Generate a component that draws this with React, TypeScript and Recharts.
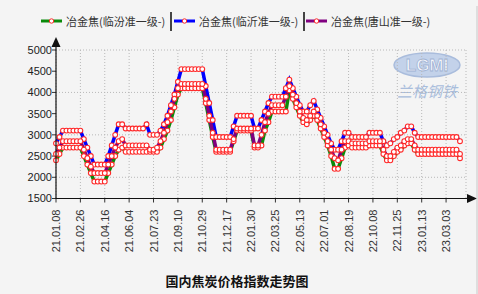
import { LineChart, Line, XAxis, YAxis, CartesianGrid } from 'recharts';

// weekly sampling dates (yy.mm.dd)
const dates = [
  '21.01.08', '21.01.15', '21.01.22', '21.01.29', '21.02.05', '21.02.10', '21.02.19', '21.02.26',
  '21.03.05', '21.03.12', '21.03.19', '21.03.26', '21.04.02', '21.04.09', '21.04.16', '21.04.23',
  '21.04.30', '21.05.07', '21.05.14', '21.05.21', '21.05.28', '21.06.04', '21.06.11', '21.06.18',
  '21.06.25', '21.07.02', '21.07.09', '21.07.16', '21.07.23', '21.07.30', '21.08.06', '21.08.13',
  '21.08.20', '21.08.27', '21.09.03', '21.09.10', '21.09.17', '21.09.24', '21.09.30', '21.10.08',
  '21.10.15', '21.10.22', '21.10.29', '21.11.05', '21.11.12', '21.11.19', '21.11.26', '21.12.03',
  '21.12.10', '21.12.17', '21.12.24', '21.12.31', '22.01.07', '22.01.14', '22.01.21', '22.01.28',
  '22.01.30', '22.02.11', '22.02.18', '22.02.25', '22.03.04', '22.03.11', '22.03.18', '22.03.25',
  '22.04.01', '22.04.08', '22.04.15', '22.04.22', '22.04.29', '22.05.06', '22.05.13', '22.05.20',
  '22.05.27', '22.06.03', '22.06.10', '22.06.17', '22.06.24', '22.07.01', '22.07.08', '22.07.15',
  '22.07.22', '22.07.29', '22.08.05', '22.08.12', '22.08.19', '22.08.26', '22.09.02', '22.09.09',
  '22.09.16', '22.09.23', '22.09.30', '22.10.08', '22.10.14', '22.10.21', '22.10.28', '22.11.04',
  '22.11.11', '22.11.18', '22.11.25', '22.12.02', '22.12.09', '22.12.16', '22.12.23', '22.12.30',
  '23.01.06', '23.01.13', '23.01.20', '23.01.28', '23.02.03', '23.02.10', '23.02.17', '23.02.24',
  '23.03.03', '23.03.10', '23.03.17', '23.03.24', '23.03.31',
];

const tickLabels = [
  '21.01.08', '21.02.26', '21.04.16', '21.06.04', '21.07.23', '21.09.10', '21.10.29', '21.12.17',
  '22.01.30', '22.03.25', '22.05.13', '22.07.01', '22.08.19', '22.10.08', '22.11.25', '23.01.13',
  '23.03.03',
];

const yTicks = [1500, 2000, 2500, 3000, 3500, 4000, 4500, 5000];

// 冶金焦(临汾准一级-)
const linfen = [
  2400, 2550, 2700, 2700, 2700, 2700, 2700, 2700, 2500, 2300, 2100, 1900, 1900, 1900, 1900, 2100,
  2300, 2500, 2650, 2700, 2600, 2600, 2600, 2600, 2600, 2600, 2600, 2600, 2600, 2600, 2700, 2900,
  3100, 3350, 3650, 3950, 4100, 4100, 4100, 4100, 4100, 4100, 4100, 3750, 3350, 2950, 2600, 2600,
  2600, 2600, 2600, 2850, 3100, 3100, 3100, 3100, 3100, 2700, 2700, 2750, 3100, 3300, 3550, 3550,
  3550, 3550, 3550, 4050, 3850, 3650, 3450, 3300, 3250, 3350, 3450, 3350, 3150, 2950, 2750, 2500,
  2200, 2200, 2450, 2700, 2750, 2700, 2700, 2700, 2700, 2700, 2750, 2750, 2750, 2750, 2550, 2400,
  2400, 2500, 2600, 2650, 2750, 2800, 2800, 2650, 2550, 2550, 2550, 2550, 2550, 2550, 2550, 2550,
  2550, 2550, 2550, 2550, 2450,
];

// 冶金焦(临沂准一级-)
const linyi = [
  2800, 2950, 3100, 3100, 3100, 3100, 3100, 3100, 2900, 2700, 2500, 2300, 2300, 2300, 2300, 2500,
  2750, 3000, 3250, 3250, 3150, 3150, 3150, 3150, 3150, 3150, 3250, 3000, 3000, 3000, 3100, 3250,
  3450, 3700, 3950, 4250, 4550, 4550, 4550, 4550, 4550, 4550, 4550, 4150, 3750, 3350, 2950, 2950,
  2950, 2950, 2950, 3200, 3450, 3450, 3450, 3450, 3450, 3150, 3150, 3350, 3550, 3750, 3900, 3900,
  3900, 3900, 4100, 4300, 4100, 3900, 3700, 3550, 3550, 3700, 3800, 3600, 3400, 3200, 3000, 2800,
  2650, 2650, 2850, 3050, 3050, 2950, 2950, 2950, 2950, 2950, 3050, 3050, 3050, 3050, 2850, 2750,
  2800, 2900, 2950, 3050, 3100, 3200, 3200, 3050, 2950, 2950, 2950, 2950, 2950, 2950, 2950, 2950,
  2950, 2950, 2950, 2950, 2850,
];

// 冶金焦(唐山准一级-)
const tangshan = [
  2550, 2700, 2850, 2850, 2850, 2850, 2850, 2850, 2650, 2450, 2250, 2100, 2100, 2100, 2100, 2300,
  2500, 2700, 2850, 2900, 2750, 2750, 2750, 2750, 2750, 2750, 2750, 2650, 2650, 2700, 2850, 3050,
  3300, 3550, 3850, 4100, 4200, 4200, 4200, 4200, 4200, 4200, 4200, 3850, 3450, 3050, 2650, 2650,
  2650, 2650, 2650, 2900, 3150, 3150, 3150, 3150, 3150, 2750, 2750, 3000, 3300, 3500, 3700, 3700,
  3700, 3700, 3900, 4150, 3950, 3750, 3550, 3400, 3350, 3450, 3550, 3450, 3250, 3050, 2850, 2650,
  2450, 2400, 2650, 2850, 2850, 2800, 2800, 2800, 2800, 2800, 2850, 2850, 2850, 2850, 2650, 2500,
  2500, 2600, 2700, 2750, 2850, 2900, 2900, 2750, 2650, 2650, 2650, 2650, 2650, 2650, 2650, 2650,
  2650, 2650, 2650, 2650, 2550,
];

const seriesList = [
  { key: 'linfen', name: '冶金焦(临汾准一级-)', color: '#0a8a0a' },
  { key: 'linyi', name: '冶金焦(临沂准一级-)', color: '#0000ff' },
  { key: 'tangshan', name: '冶金焦(唐山准一级-)', color: '#800080' },
];

const data = dates.map((date, i) => ({
  date,
  linfen: linfen[i],
  linyi: linyi[i],
  tangshan: tangshan[i],
}));

const CJK = '"Noto Sans CJK SC", "Liberation Sans", sans-serif';
const LATIN = '"Liberation Sans", Arial, sans-serif';

const DateTick = ({ x, y, payload }: any) => (
  <g transform={`translate(${x},${y}) rotate(-90)`}>
    <text x={-5} y={0} dy={4} textAnchor="end" fontSize={11} fill="#333" fontFamily={LATIN}>
      {payload.value}
    </text>
  </g>
);

const dotStyle = { r: 2.4, stroke: '#ff2a2a', strokeWidth: 1.1, fill: '#ffffff' };

// legend item positions (left edge of icon)
const legendX = [41, 174, 306];
const separatorX = [170, 303];

const LegendIcon = ({ color }: { color: string }) => (
  <svg width={21} height={10} style={{ display: 'block' }}>
    <line x1={0} y1={5} x2={21} y2={5} stroke={color} strokeWidth={3} />
    <circle cx={10.5} cy={5} r={2.2} fill="#fff" stroke="#ff2a2a" strokeWidth={1} />
  </svg>
);

export default function App() {
  return (
    <div
      style={{
        position: 'fixed',
        left: 0,
        top: 0,
        width: 478,
        height: 294,
        background: '#f4f4f4',
        overflow: 'hidden',
      }}
    >
      {/* watermark */}
      <svg width={478} height={294} style={{ position: 'absolute', left: 0, top: 0 }}>
        <ellipse cx={427} cy={65} rx={33} ry={12} fill="#c3d2ea" stroke="#a9bcdc" strokeWidth={1.5} />
        <text x={427} y={71} textAnchor="middle" fontSize={17} fontWeight="bold" fill="#f4f6fb"
          stroke="#9fb2d4" strokeWidth={0.8} fontFamily={LATIN}>
          LGMI
        </text>
        <text x={427} y={97} textAnchor="middle" fontSize={15} fontStyle="italic" fill="#a9bddc"
          fontFamily={CJK}>
          兰格钢铁
        </text>
      </svg>

      <div style={{ position: 'absolute', left: 0, top: 0 }}>
        <LineChart
          width={478}
          height={294}
          data={data}
          margin={{ top: 50, right: 12, left: 6, bottom: 35.5 }}
        >
          <CartesianGrid stroke="#b8b8b8" strokeDasharray="1 2" />
          <XAxis
            dataKey="date"
            ticks={tickLabels}
            interval={0}
            height={60}
            padding={{ left: 0, right: 6 }}
            axisLine={false}
            tickLine={{ stroke: '#333' }}
            tickSize={4}
            tick={<DateTick />}
          />
          <YAxis
            width={50}
            domain={[1500, 5000]}
            ticks={yTicks}
            allowDataOverflow
            axisLine={false}
            tickLine={{ stroke: '#333' }}
            tickSize={4}
            tickMargin={0}
            tick={{ fontSize: 11, fill: '#222', fontFamily: LATIN }}
          />
          {seriesList.map((s) => (
            <Line
              key={s.key}
              dataKey={s.key}
              name={s.name}
              type="linear"
              stroke={s.color}
              strokeWidth={3.5}
              dot={false}
              activeDot={false}
              isAnimationActive={false}
            />
          ))}
          {/* markers drawn over every line */}
          {seriesList.map((s) => (
            <Line
              key={`${s.key}-dots`}
              dataKey={s.key}
              type="linear"
              stroke="none"
              dot={dotStyle}
              activeDot={false}
              legendType="none"
              isAnimationActive={false}
            />
          ))}
        </LineChart>
      </div>

      {/* axis lines with arrows */}
      <svg width={478} height={294} style={{ position: 'absolute', left: 0, top: 0 }}>
        <line x1={56} y1={199} x2={56} y2={44} stroke="#111" strokeWidth={1.2} />
        <polygon points="56,37 51.5,47 60.5,47" fill="#111" />
        <line x1={56} y1={198.5} x2={470} y2={198.5} stroke="#111" strokeWidth={1.2} />
        <polygon points="477,198.5 467,194 467,203" fill="#111" />
        <line x1={477} y1={6} x2={477} y2={294} stroke="#c8c8c8" strokeWidth={1} />
      </svg>

      {/* legend */}
      {seriesList.map((s, i) => (
        <div
          key={s.key}
          style={{
            position: 'absolute',
            left: legendX[i],
            top: 13,
            display: 'flex',
            alignItems: 'center',
            gap: 4,
            fontFamily: CJK,
            fontSize: 11,
            color: '#333',
            whiteSpace: 'nowrap',
            lineHeight: '16px',
          }}
        >
          <LegendIcon color={s.color} />
          <span>{s.name}</span>
        </div>
      ))}
      {separatorX.map((x) => (
        <div
          key={x}
          style={{ position: 'absolute', left: x, top: 12, width: 1.5, height: 19, background: '#444' }}
        />
      ))}

      {/* title */}
      <div
        style={{
          position: 'absolute',
          left: 0,
          width: 474,
          top: 271,
          textAlign: 'center',
          fontFamily: CJK,
          fontSize: 13,
          fontWeight: 'bold',
          color: '#111',
        }}
      >
        国内焦炭价格指数走势图
      </div>
    </div>
  );
}
